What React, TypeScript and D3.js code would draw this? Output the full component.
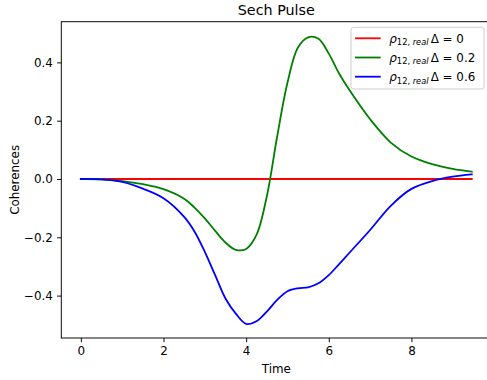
import { useEffect, useRef } from "react";
import * as d3 from "d3";

// time axis (shared by all three series)
const times = [
  0, 0.5, 1, 1.5, 2, 2.5, 2.75, 3, 3.25, 3.5, 3.75, 4, 4.25, 4.5, 4.75, 5,
  5.25, 5.5, 5.75, 6, 6.25, 6.5, 7, 7.5, 8, 8.5, 9, 9.46,
];
// rho_12 real part for each detuning
const rhoDelta0 = [
  0, 0, 0, 0, 0, 0, 0, 0, 0, 0, 0, 0, 0, 0, 0, 0, 0, 0, 0, 0, 0, 0, 0, 0, 0,
  0, 0, 0,
];
const rhoDelta02 = [
  0, -0.001, -0.007, -0.018, -0.035, -0.068, -0.098, -0.135, -0.178, -0.218,
  -0.243, -0.24, -0.192, -0.06, 0.145, 0.33, 0.45, 0.486, 0.481, 0.43, 0.362,
  0.305, 0.205, 0.125, 0.077, 0.051, 0.035, 0.025,
];
const rhoDelta06 = [
  0, -0.001, -0.01, -0.033, -0.066, -0.13, -0.18, -0.25, -0.33, -0.41, -0.462,
  -0.497, -0.488, -0.455, -0.415, -0.385, -0.375, -0.372, -0.358, -0.33,
  -0.292, -0.253, -0.175, -0.092, -0.034, -0.007, 0.008, 0.016,
];

const seriesValues = [rhoDelta0, rhoDelta02, rhoDelta06];
const deltaLabels = ["0", "0.2", "0.6"];
const colors = ["#ff0000", "#008000", "#0000ff"];
const xTicks = [0, 2, 4, 6, 8];
const yTicks = [-0.4, -0.2, 0, 0.2, 0.4];

const W = 487;
const H = 380;
const box = { l: 61.3, r: 491.3, t: 21.7, b: 338 };
const font = "DejaVu Sans";
const fs = 11.9;

export default function App() {
  const svgRef = useRef<SVGSVGElement>(null);

  useEffect(() => {
    const svg = d3.select(svgRef.current);
    svg.selectAll("*").remove();

    const x = d3.scaleLinear().domain([-0.473, 9.933]).range([box.l, box.r]);
    const y = d3.scaleLinear().domain([-0.5455, 0.5396]).range([box.b, box.t]);

    svg
      .append("defs")
      .append("clipPath")
      .attr("id", "plot")
      .append("rect")
      .attr("x", box.l)
      .attr("y", box.t)
      .attr("width", box.r - box.l)
      .attr("height", box.b - box.t);

    const line = d3
      .line<number>()
      .x((_, i) => x(times[i]))
      .y((d) => y(d))
      .curve(d3.curveCatmullRom.alpha(0.5));

    svg
      .append("g")
      .attr("clip-path", "url(#plot)")
      .selectAll("path")
      .data(seriesValues)
      .join("path")
      .attr("d", (d) => line(d))
      .attr("fill", "none")
      .attr("stroke", (_, i) => colors[i])
      .attr("stroke-width", 1.8)
      .attr("stroke-linecap", "square");

    // axes
    const xAxis = d3
      .axisBottom(x)
      .tickValues(xTicks)
      .tickSize(4.2)
      .tickPadding(4.2)
      .tickFormat(d3.format("d"));
    const yAxis = d3
      .axisLeft(y)
      .tickValues(yTicks)
      .tickSize(4.2)
      .tickPadding(4.2)
      .tickFormat(d3.format(".1f"));

    const gx = svg.append("g").attr("transform", `translate(0,${box.b})`).call(xAxis);
    const gy = svg.append("g").attr("transform", `translate(${box.l},0)`).call(yAxis);
    [gx, gy].forEach((g) => {
      g.select(".domain").remove();
      g.selectAll("line").attr("stroke", "#000").attr("stroke-width", 0.96);
      g.selectAll("text")
        .attr("fill", "#000")
        .style("font-family", font)
        .style("font-size", `${fs}px`);
    });

    // spines
    svg
      .append("rect")
      .attr("x", box.l)
      .attr("y", box.t)
      .attr("width", box.r - box.l)
      .attr("height", box.b - box.t)
      .attr("fill", "none")
      .attr("stroke", "#000")
      .attr("stroke-width", 0.96);

    // labels
    svg
      .append("text")
      .attr("x", (box.l + box.r) / 2)
      .attr("y", 15)
      .attr("text-anchor", "middle")
      .style("font-family", font)
      .style("font-size", "14.3px")
      .text("Sech Pulse");

    svg
      .append("text")
      .attr("x", (box.l + box.r) / 2)
      .attr("y", 373)
      .attr("text-anchor", "middle")
      .style("font-family", font)
      .style("font-size", `${fs}px`)
      .text("Time");

    svg
      .append("text")
      .attr("transform", `translate(18.5,${(box.t + box.b) / 2}) rotate(-90)`)
      .attr("text-anchor", "middle")
      .style("font-family", font)
      .style("font-size", `${fs}px`)
      .text("Coherences");

    // legend
    const lg = svg.append("g");
    lg.append("rect")
      .attr("x", 351)
      .attr("y", 27.3)
      .attr("width", 133)
      .attr("height", 61.7)
      .attr("rx", 2.5)
      .attr("fill", "#fff")
      .attr("fill-opacity", 0.8)
      .attr("stroke", "#cccccc")
      .attr("stroke-width", 0.96);

    deltaLabels.forEach((lab, i) => {
      const cy = 38.3 + i * 19.2;
      lg.append("line")
        .attr("x1", 355)
        .attr("x2", 380.7)
        .attr("y1", cy)
        .attr("y2", cy)
        .attr("stroke", colors[i])
        .attr("stroke-width", 1.8);
      const t = lg
        .append("text")
        .attr("x", 389.3)
        .attr("y", cy + 4.3)
        .style("font-family", font)
        .style("font-size", `${fs}px`);
      t.append("tspan").style("font-style", "italic").text("ρ");
      t.append("tspan")
        .attr("dy", 2.6)
        .style("font-size", "8.3px")
        .text("12,");
      t.append("tspan")
        .style("font-size", "8.3px")
        .style("font-style", "italic")
        .text(" real");
      lg.append("text")
        .attr("x", 430.7)
        .attr("y", cy + 4.3)
        .style("font-family", font)
        .style("font-size", `${fs}px`)
        .text(`Δ = ${lab}`);
    });
  }, []);

  return (
    <svg
      ref={svgRef}
      width={W}
      height={H}
      style={{ position: "absolute", left: 0, top: 0, background: "#fff" }}
    />
  );
}
